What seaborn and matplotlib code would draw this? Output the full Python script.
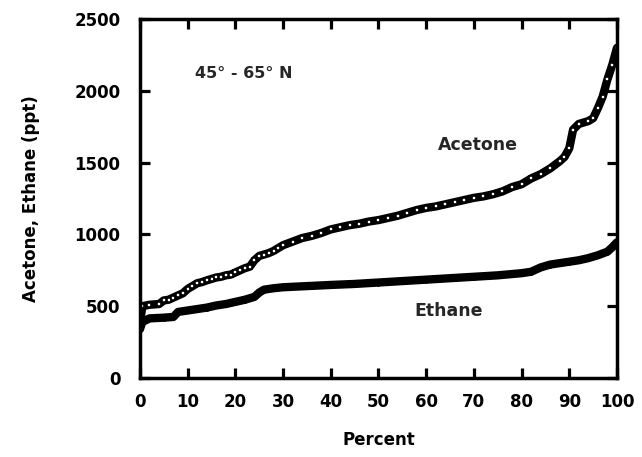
import numpy as np
import pandas as pd
import matplotlib
matplotlib.use("Agg")
import matplotlib.pyplot as plt
import seaborn as sns

# Percentile distributions, 45-65 N
acetone_pct = [0, 0.5, 2, 4, 5, 6, 7, 8, 9, 10, 11, 12, 13, 14, 15, 16, 17, 18, 19, 20,
               21, 22, 23, 24, 25, 26, 27, 28, 29, 30, 32, 34, 36, 38, 40, 42, 44, 46, 48, 50,
               52, 54, 56, 58, 60, 62, 64, 66, 68, 70, 72, 74, 76, 78, 80, 82, 84, 86, 88, 89,
               90, 90.8, 92, 94, 95, 96, 97, 98, 99, 100]
acetone_ppt = [380, 500, 510, 515, 540, 545, 560, 575, 590, 620, 640, 660, 668, 680, 690, 700, 705, 715, 720, 735,
               750, 765, 775, 820, 850, 860, 870, 885, 905, 925, 950, 975, 990, 1010, 1035, 1050, 1065, 1075, 1090, 1100,
               1115, 1130, 1150, 1170, 1185, 1195, 1210, 1225, 1240, 1255, 1265, 1280, 1300, 1330, 1350, 1390, 1420, 1460, 1510, 1540,
               1600, 1730, 1770, 1790, 1810, 1880, 1960, 2080, 2180, 2300]

ethane_pct = [0, 0.5, 2, 5, 7, 8, 10, 12, 14, 16, 18, 20, 22, 24, 25, 26, 28, 30, 35, 40,
              45, 50, 55, 60, 65, 70, 75, 80, 82, 84, 86, 88, 90, 92, 94, 96, 98, 99, 100]
ethane_ppt = [340, 390, 415, 420, 425, 460, 470, 480, 490, 505, 515, 530, 545, 565, 595, 615, 625, 632, 640, 648,
              655, 665, 675, 685, 695, 705, 715, 730, 740, 770, 790, 800, 810, 820, 835, 855, 880, 910, 945]

x_ticks = list(range(0, 101, 10))
y_ticks = list(range(0, 2501, 500))

sns.set_style("ticks", {'xtick.direction': 'in', 'ytick.direction': 'in'})

fig = plt.figure(figsize=(6.42, 4.57), dpi=100)
ax = fig.add_axes([0.218, 0.173, 0.743, 0.785])

ax.plot(acetone_pct, acetone_ppt, color='black', lw=6,
        marker='s', markersize=3, markerfacecolor='white', markeredgecolor='black', markeredgewidth=1.2)
ax.plot(ethane_pct, ethane_ppt, color='black', lw=6,
        marker='D', markersize=3, markerfacecolor='black', markeredgecolor='black')

ax.set_xlim(0, 100)
ax.set_ylim(0, 2500)
ax.set_xticks(x_ticks)
ax.set_yticks(y_ticks)
ax.tick_params(direction='in', length=7.5, width=2.3, color='black', top=True, right=True,
               labelsize=12, labelcolor='black')
ax.tick_params(axis='y', pad=14)
ax.tick_params(axis='x', pad=11)
for lab in ax.get_xticklabels() + ax.get_yticklabels():
    lab.set_fontweight('bold')
for s in ax.spines.values():
    s.set_linewidth(2.5)
    s.set_color('black')

ax.set_xlabel('Percent', fontsize=12, fontweight='bold', color='black')
ax.set_ylabel('Acetone, Ethane (ppt)', fontsize=12, fontweight='bold', color='black')
ax.xaxis.set_label_coords(0.5, -0.148)
ax.yaxis.set_label_coords(-0.21, 0.5)

ax.text(11.5, 2124, '45° - 65° N', fontsize=11.5, fontweight='bold', va='center')
ax.text(70.9, 1622, 'Acetone', fontsize=12.5, fontweight='bold', ha='center', va='center')
ax.text(64.8, 467, 'Ethane', fontsize=12.5, fontweight='bold', ha='center', va='center')

fig.savefig('out.png', dpi=100)
